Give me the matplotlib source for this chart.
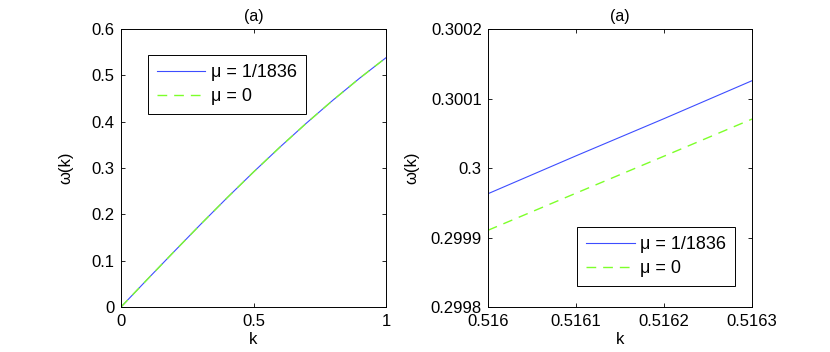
import matplotlib
matplotlib.use("Agg")
import matplotlib.pyplot as plt

plt.rcParams['font.family'] = ['Liberation Sans', 'DejaVu Sans']

# Left panel data (full range)
k_full = [0.0, 0.1, 0.2, 0.3, 0.4, 0.5, 0.6, 0.7, 0.8, 0.9, 1.0]
w_full_mu = [0.0, 0.0600, 0.1194, 0.1781, 0.2355, 0.2913, 0.3452, 0.3970, 0.4465, 0.4936, 0.5380]
w_full_0 = [0.0, 0.0600, 0.1194, 0.1781, 0.2355, 0.2913, 0.3452, 0.3970, 0.4465, 0.4936, 0.5380]

# Right panel data (zoom)
k_zoom = [0.5160, 0.5161, 0.5162, 0.5163]
w_zoom_mu = [0.299963, 0.3000175, 0.300071, 0.3001256]
w_zoom_0 = [0.2999104, 0.2999638, 0.300017, 0.3000704]

labels = ['\u03bc = 1/1836', '\u03bc = 0']
blue = '#3d4dff'
green = '#7dff2a'
dash = (0, (7, 5))

fig = plt.figure(figsize=(8.30, 3.52), dpi=100)
ax1 = fig.add_axes([121/830, 1-307/352, 265/830, 278/352])
ax2 = fig.add_axes([488/830, 1-307/352, 264/830, 278/352])

ax1.plot(k_full, w_full_mu, color=blue, lw=0.8, label=labels[0])
ax1.plot(k_full, w_full_0, color=green, lw=1.0, ls=dash, label=labels[1])
ax1.set_xlim(0, 1)
ax1.set_ylim(0, 0.6)
ax1.set_xticks([0, 0.5, 1])
ax1.set_xticklabels(['0', '0.5', '1'])
ax1.set_yticks([0, 0.1, 0.2, 0.3, 0.4, 0.5, 0.6])
ax1.set_yticklabels(['0', '0.1', '0.2', '0.3', '0.4', '0.5', '0.6'])

ax2.plot(k_zoom, w_zoom_mu, color=blue, lw=0.8, label=labels[0])
ax2.plot(k_zoom, w_zoom_0, color=green, lw=1.0, ls=dash, label=labels[1])
ax2.set_xlim(0.5160, 0.5163)
ax2.set_ylim(0.2998, 0.3002)
ax2.set_xticks([0.5160, 0.5161, 0.5162, 0.5163])
ax2.set_xticklabels(['0.516', '0.5161', '0.5162', '0.5163'])
ax2.set_yticks([0.2998, 0.2999, 0.3000, 0.3001, 0.3002])
ax2.set_yticklabels(['0.2998', '0.2999', '0.3', '0.3001', '0.3002'])

for ax in (ax1, ax2):
    ax.tick_params(direction='in', top=True, right=True, labelsize=12, length=3, width=0.6)
    ax.tick_params(axis='x', pad=5)
    ax.tick_params(axis='y', pad=4.5)
    for s in ax.spines.values():
        s.set_linewidth(0.7)
    ax.set_xlabel('k', fontsize=12, labelpad=2)
    ax.set_title('(a)', fontsize=11.5, pad=6)

ax1.set_ylabel('\u03c9(k)', fontsize=12, labelpad=13)
ax2.set_ylabel('\u03c9(k)', fontsize=12, labelpad=8)

leg_kw = dict(loc='upper left', fontsize=13, frameon=True, fancybox=False, edgecolor='black',
              framealpha=1, borderpad=0.5, handlelength=2.7, handletextpad=0.3,
              labelspacing=0.4, borderaxespad=0)
leg1 = ax1.legend(bbox_to_anchor=(0.10, 0.906), **leg_kw)
leg1.get_frame().set_linewidth(0.7)
leg2 = ax2.legend(bbox_to_anchor=(0.337, 0.288), **leg_kw)
leg2.get_frame().set_linewidth(0.7)

fig.savefig('out.png', dpi=100)
